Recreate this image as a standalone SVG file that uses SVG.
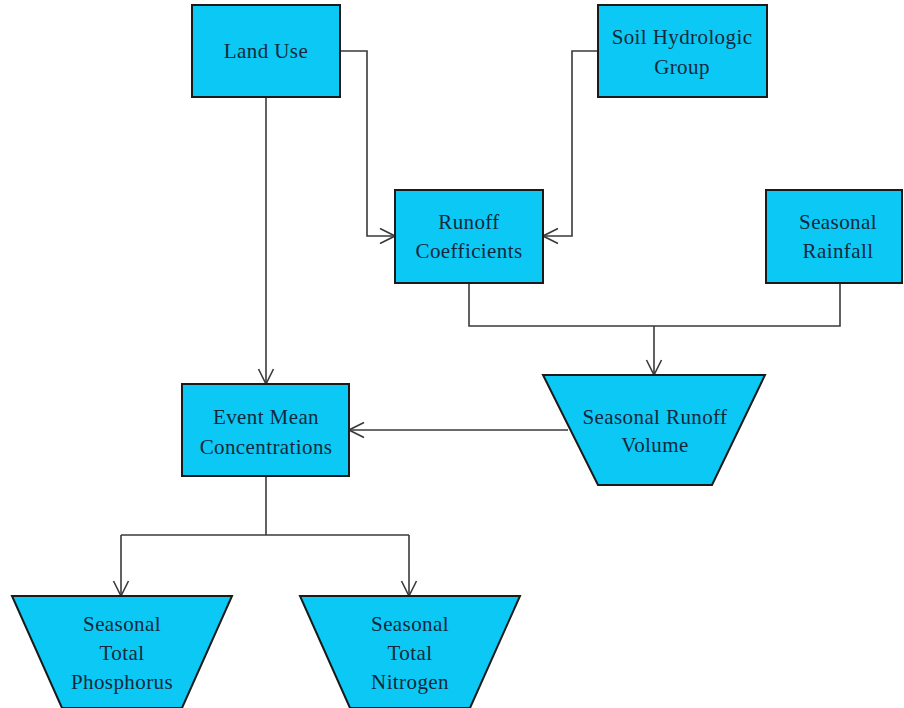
<svg xmlns="http://www.w3.org/2000/svg" width="904" height="708" viewBox="0 0 904 708">
<style>
.n{fill:#0cc8f4;stroke:#1a1a1a;stroke-width:2}
.t{font-family:"Liberation Serif",serif;font-size:21px;fill:#14283c;text-anchor:middle;letter-spacing:0.4px}
.c{fill:none;stroke:#3a3a3a;stroke-width:1.6}
</style>
<defs>
<marker id="a" viewBox="0 0 18 18" refX="17" refY="9" markerWidth="18" markerHeight="18" markerUnits="userSpaceOnUse" orient="auto">
<path d="M2,1.5 L17,9 L2,16.5" fill="none" stroke="#3a3a3a" stroke-width="1.6"/>
</marker>
</defs>
<rect width="904" height="708" fill="#fff"/>
<g id="connectors">
<path class="c" d="M340,51 H367 V236 H395" marker-end="url(#a)"/>
<path class="c" d="M598,51 H572 V236 H543" marker-end="url(#a)"/>
<path class="c" d="M266,97 V384" marker-end="url(#a)"/>
<path class="c" d="M469,283 V326 H840 V283"/>
<path class="c" d="M654,326 V375" marker-end="url(#a)"/>
<path class="c" d="M568,430 H349" marker-end="url(#a)"/>
<path class="c" d="M266,476 V535"/>
<path class="c" d="M121,535 H409"/>
<path class="c" d="M121,535 V596" marker-end="url(#a)"/>
<path class="c" d="M409,535 V596" marker-end="url(#a)"/>
</g>
<g id="land-use">
<rect class="n" x="192" y="5" width="148" height="92"/>
<text class="t" x="266" y="58">Land Use</text>
</g>
<g id="soil-hydrologic-group">
<rect class="n" x="598" y="5" width="169" height="92"/>
<text class="t" x="682" y="44">Soil Hydrologic</text>
<text class="t" x="682" y="74">Group</text>
</g>
<g id="runoff-coefficients">
<rect class="n" x="395" y="190" width="148" height="93"/>
<text class="t" x="469" y="229">Runoff</text>
<text class="t" x="469" y="258">Coefficients</text>
</g>
<g id="seasonal-rainfall">
<rect class="n" x="766" y="190" width="136" height="93"/>
<text class="t" x="838" y="229">Seasonal</text>
<text class="t" x="838" y="258">Rainfall</text>
</g>
<g id="event-mean-concentrations">
<rect class="n" x="182" y="384" width="167" height="92"/>
<text class="t" x="266" y="424">Event Mean</text>
<text class="t" x="266" y="454">Concentrations</text>
</g>
<g id="seasonal-runoff-volume">
<polygon class="n" points="543,375 765,375 712,485 598,485"/>
<text class="t" x="655" y="424">Seasonal Runoff</text>
<text class="t" x="655" y="452">Volume</text>
</g>
<g id="seasonal-total-phosphorus">
<polygon class="n" points="12,596 232,596 182,708 62,708"/>
<text class="t" x="122" y="631">Seasonal</text>
<text class="t" x="122" y="660">Total</text>
<text class="t" x="122" y="689">Phosphorus</text>
</g>
<g id="seasonal-total-nitrogen">
<polygon class="n" points="300,596 520,596 470,708 350,708"/>
<text class="t" x="410" y="631">Seasonal</text>
<text class="t" x="410" y="660">Total</text>
<text class="t" x="410" y="689">Nitrogen</text>
</g>
</svg>
